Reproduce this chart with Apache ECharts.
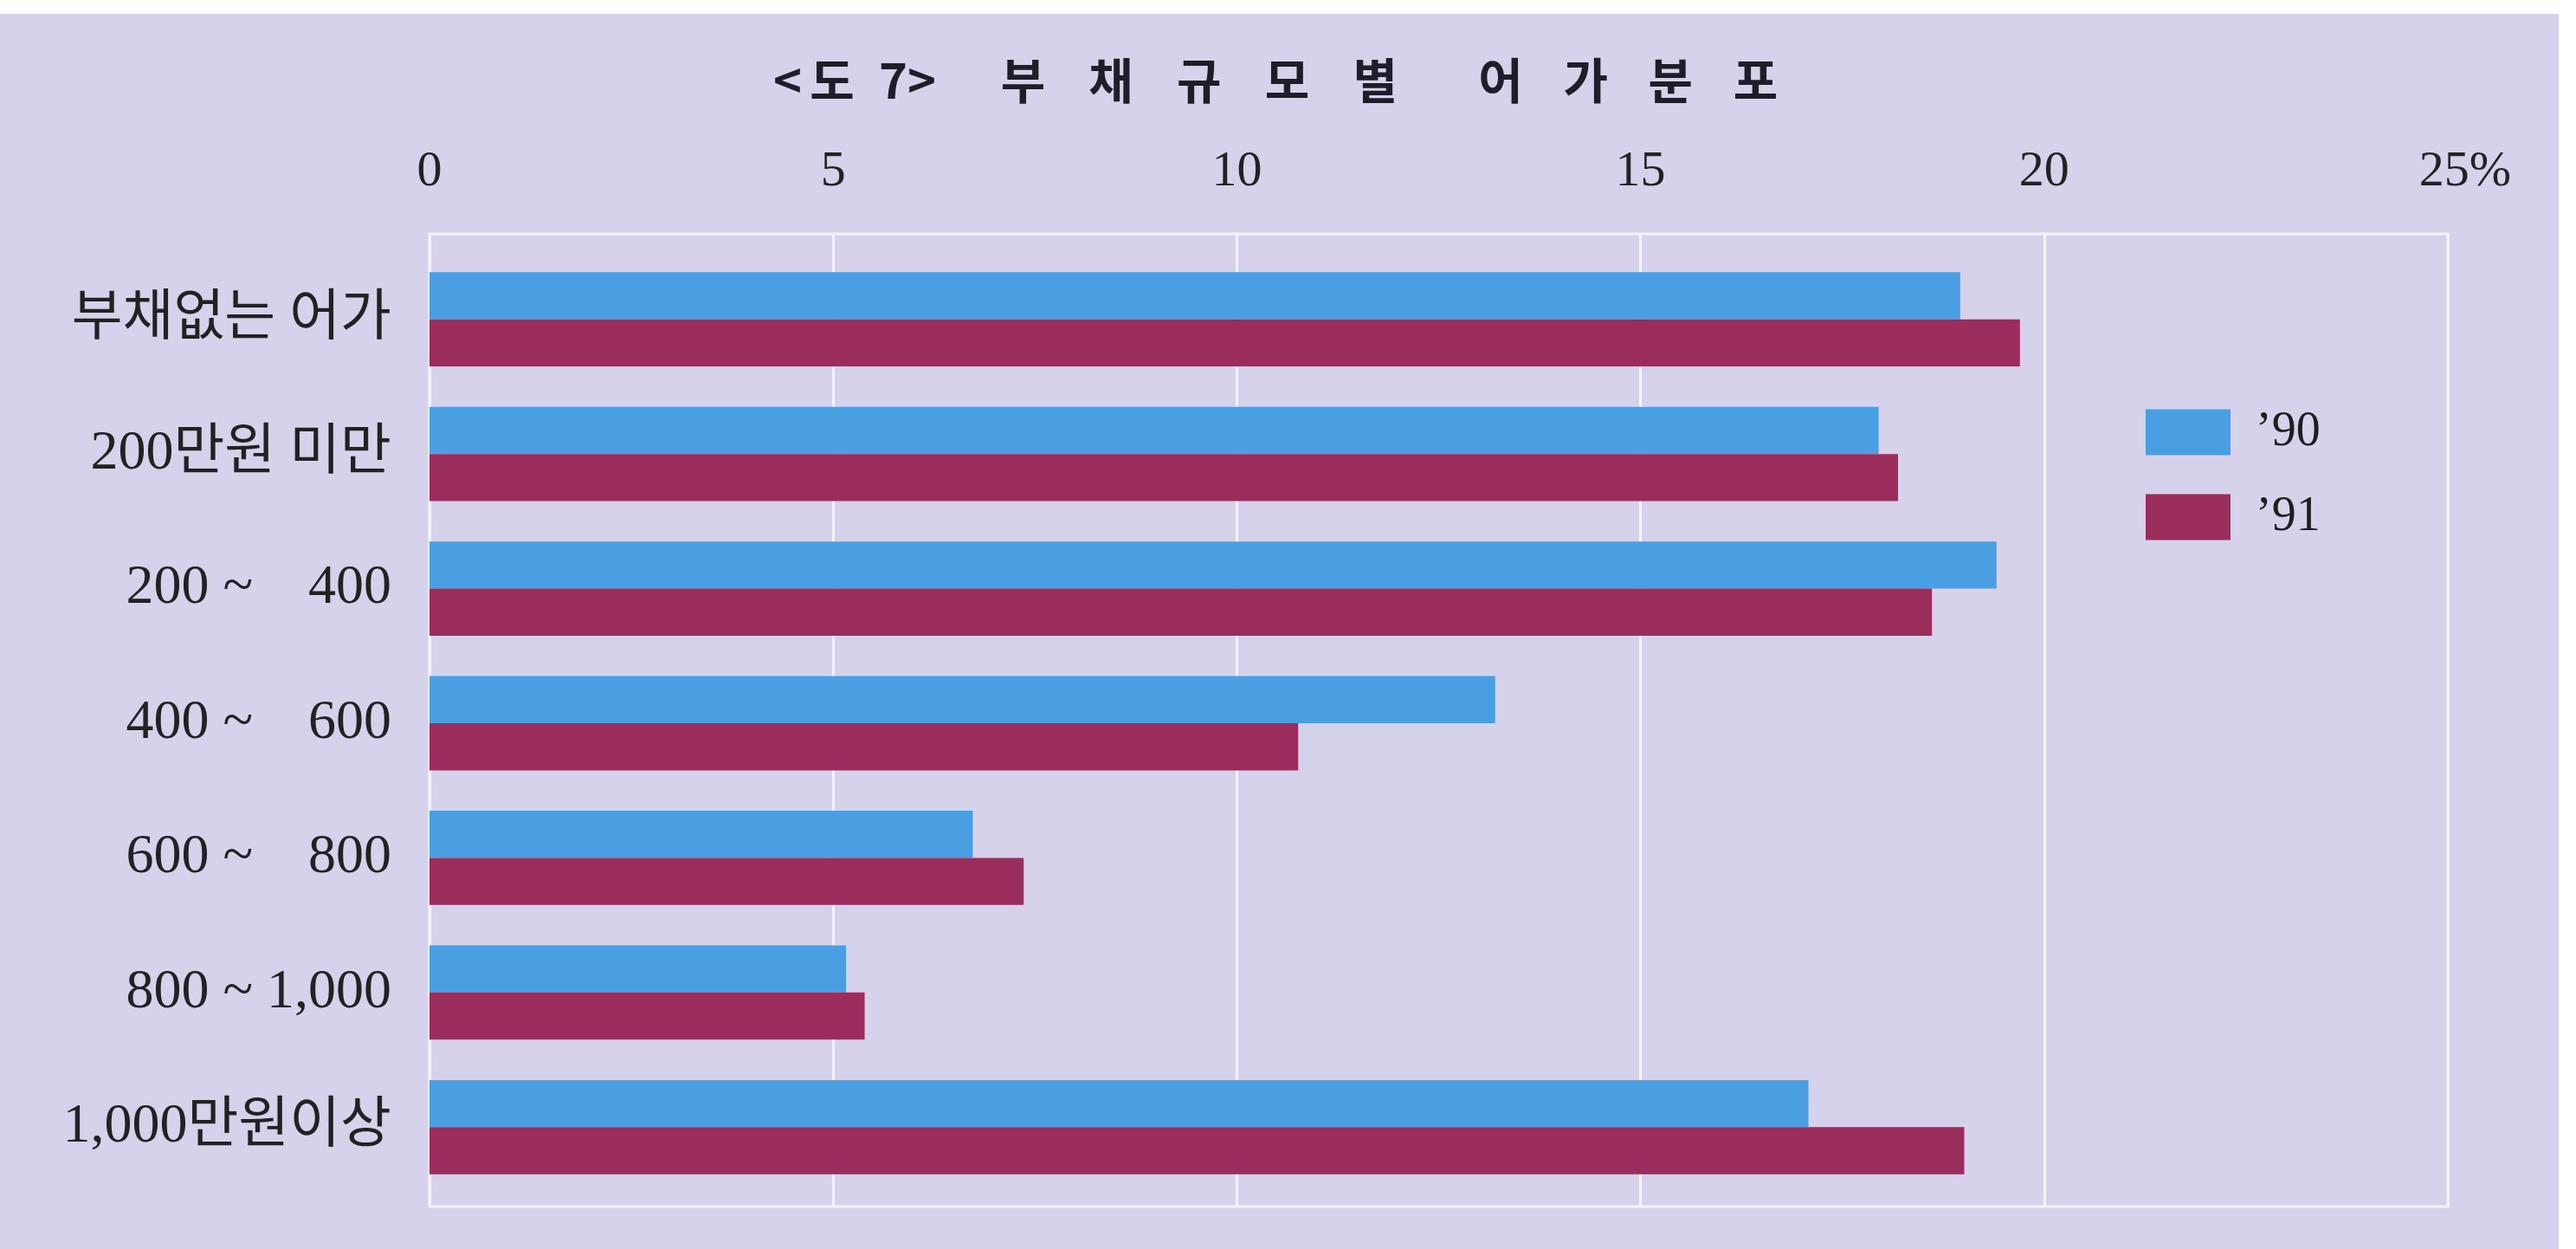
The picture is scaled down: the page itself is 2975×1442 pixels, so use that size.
<!DOCTYPE html>
<html>
<head>
<meta charset="utf-8">
<script src="https://cdn.jsdelivr.net/npm/echarts@6/dist/echarts.min.js"></script>
<style>
  html, body { margin: 0; padding: 0; background: #ffffff; width: 2975px; height: 1442px; overflow: hidden; }
  #chart { position: absolute; left: 0; top: 16px; width: 2955px; height: 1426px; background: #d7d2eb; }
</style>
</head>
<body>
<div id="chart"></div>
<script>
const S1 = '\u2002\u2004\u200A';
const S2 = '\u2002\u2004';
const titleText = '<\u2006도\u20027>\u2003\u2004' + ['부', '채', '규', '모', '별'].join(S1) + '\u2003\u2002\u2006' + ['어', '가', '분', '포'].join(S2);
const categories = ['부채없는 어가', '200만원 미만', '200 ~    400', '400 ~    600', '600 ~    800', '800 ~ 1,000', '1,000만원이상'];
const seriesNames = ['\u201990', '\u201991'];
const values90 = [18.96, 17.95, 19.41, 13.2, 6.73, 5.16, 17.08];
const values91 = [19.70, 18.19, 18.61, 10.76, 7.36, 5.39, 19.01];
const xTicks = [0, 5, 10, 15, 20, 25];

const serif = "'Liberation Serif', 'Noto Sans CJK KR', serif";
const chart = echarts.init(document.getElementById('chart'));
chart.setOption({
  animation: false,
  title: {
    text: titleText,
    left: 888,
    top: 42,
    textStyle: { fontFamily: "'Noto Sans CJK KR'", fontWeight: 'bold', fontSize: 56, lineHeight: 60, color: '#1e1e28' }
  },
  legend: {
    orient: 'vertical',
    left: 2473,
    top: 450,
    itemWidth: 98,
    itemHeight: 53,
    itemGap: 42,
    icon: 'rect',
    data: seriesNames,
    textStyle: { fontFamily: serif, fontSize: 56, color: '#1e1e1e', padding: [0, 0, 0, 24] }
  },
  grid: [
    { left: 496, width: 2331, top: 254, height: 1123, show: true, borderColor: '#f4f2fb', borderWidth: 3, backgroundColor: 'transparent' },
    { left: 496, width: 2331, top: 275, height: 1088 }
  ],
  xAxis: [
    {
      gridIndex: 0, type: 'value', position: 'top', min: 0, max: 25, interval: 5,
      axisLine: { show: false }, axisTick: { show: false },
      splitLine: { show: true, lineStyle: { color: '#f4f2fb', width: 3 } },
      axisLabel: {
        margin: 42, fontFamily: serif, fontSize: 58, color: '#222',
        formatter: function (v) { return v === 25 ? '{p|25%}' : String(v); },
        rich: { p: { fontFamily: serif, fontSize: 58, color: '#222', padding: [0, 0, 0, 40] } }
      },
      data: xTicks
    },
    { gridIndex: 1, type: 'value', min: 0, max: 25, show: false }
  ],
  yAxis: [
    { gridIndex: 0, type: 'value', show: false, splitLine: { show: false } },
    {
      gridIndex: 1, type: 'category', inverse: true, data: categories,
      axisLine: { show: false }, axisTick: { show: false },
      axisLabel: { margin: 44, fontFamily: serif, fontSize: 64, color: '#222' }
    }
  ],
  series: [
    { name: seriesNames[0], type: 'bar', xAxisIndex: 1, yAxisIndex: 1, data: values90, barGap: '0%', barCategoryGap: '30%', itemStyle: { color: '#4a9fe2' } },
    { name: seriesNames[1], type: 'bar', xAxisIndex: 1, yAxisIndex: 1, data: values91, barGap: '0%', barCategoryGap: '30%', itemStyle: { color: '#9b2d5c' } }
  ]
});
</script>
</body>
</html>
